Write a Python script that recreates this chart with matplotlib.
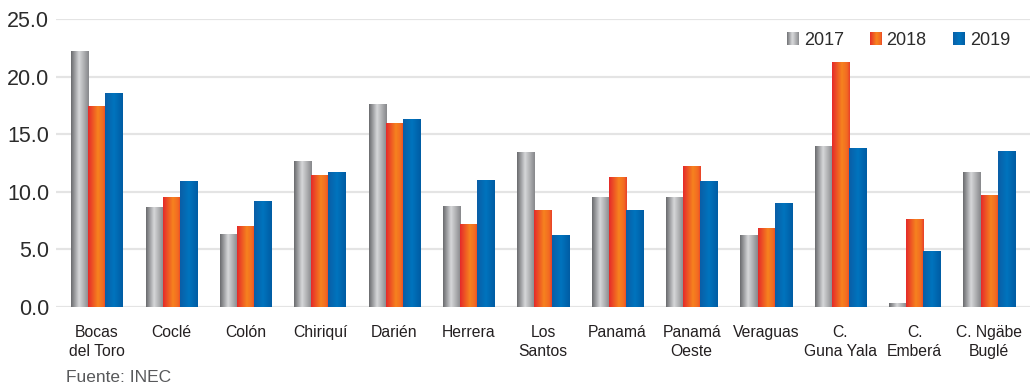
import numpy as np
import matplotlib
matplotlib.use("Agg")
import matplotlib.pyplot as plt
from matplotlib.colors import LinearSegmentedColormap
from matplotlib.patches import Rectangle
from matplotlib.legend_handler import HandlerBase

provincias = ["Bocas\ndel Toro", "Coclé", "Colón", "Chiriquí", "Darién", "Herrera",
              "Los\nSantos", "Panamá", "Panamá\nOeste", "Veraguas",
              "C.\nGuna Yala", "C.\nEmberá", "C. Ngäbe\nBuglé"]
anios = ["2017", "2018", "2019"]
v2017 = [22.2, 8.6, 6.3, 12.6, 17.6, 8.7, 13.4, 9.5, 9.5, 6.2, 13.9, 0.3, 11.7]
v2018 = [17.4, 9.5, 7.0, 11.4, 15.9, 7.2, 8.4, 11.2, 12.2, 6.8, 21.2, 7.6, 9.7]
v2019 = [18.5, 10.9, 9.2, 11.7, 16.3, 11.0, 6.2, 8.4, 10.9, 9.0, 13.8, 4.8, 13.5]
yticks = [0, 5, 10, 15, 20, 25]

# cylinder-like horizontal gradients for each year
cmaps = [
    LinearSegmentedColormap.from_list("gris", [(0, "#6a6b6e"), (0.45, "#d6d7d9"), (1, "#87888b")]),
    LinearSegmentedColormap.from_list("rojo", [(0, "#e52a2a"), (0.55, "#f6821f"), (0.85, "#f26a22"), (1, "#e8402a")]),
    LinearSegmentedColormap.from_list("azul", [(0, "#0a5ea6"), (0.5, "#0074be"), (1, "#005ca3")]),
]
grad = np.linspace(0, 1, 64).reshape(1, -1)


class GradientHandler(HandlerBase):
    def __init__(self, cmap, n=24):
        super().__init__()
        self.cmap = cmap
        self.n = n

    def create_artists(self, legend, orig_handle, xdescent, ydescent,
                       width, height, fontsize, trans):
        strips = []
        w = width / self.n
        for i in range(self.n):
            strips.append(Rectangle((-xdescent + i * w, -ydescent), w * 1.05, height,
                                    facecolor=self.cmap((i + 0.5) / self.n),
                                    edgecolor="none", transform=trans))
        return strips


fig = plt.figure(figsize=(10.3, 3.88), dpi=100)
ax = fig.add_axes([56 / 1030, 1 - 307 / 388, 1 - 56 / 1030, 288 / 388])

x = np.arange(len(provincias))
w = 0.23
series = [v2017, v2018, v2019]
handles = []
for k, vals in enumerate(series):
    bars = ax.bar(x + (k - 1) * w, vals, w, color="none", edgecolor="none", zorder=3)
    for b in bars:
        ax.imshow(grad, cmap=cmaps[k], aspect="auto", zorder=3, interpolation="bilinear",
                  extent=[b.get_x(), b.get_x() + b.get_width(), 0, b.get_height()])
    handles.append(Rectangle((0, 0), 1, 1))

ax.set_xlim(-0.55, len(provincias) - 0.45)
ax.set_ylim(0, 25)
ax.set_yticks(yticks)
ax.set_yticklabels([f"{t:.1f}" for t in yticks], fontsize=15.5, color="#2b2b2b",
                   family=["Liberation Sans", "DejaVu Sans"])
ax.set_xticks(x)
ax.set_xticklabels(provincias, fontsize=11.3, color="#231f20", linespacing=1.35,
                   family=["Liberation Sans", "DejaVu Sans"])
ax.tick_params(axis="both", length=0)
ax.tick_params(axis="y", pad=5)
ax.tick_params(axis="x", pad=13)
for s in ax.spines.values():
    s.set_visible(False)
ax.yaxis.grid(True, color="#e4e4e4", linewidth=1.6, zorder=0)
ax.set_axisbelow(True)

ax.legend(handles, anios, loc="upper right", bbox_to_anchor=(1019 / 1030, 1 - 23 / 388),
          bbox_transform=fig.transFigure, ncol=3, frameon=False, borderpad=0,
          handlelength=0.68, handleheight=0.68, handletextpad=0.25, columnspacing=1.45,
          prop={"family": ["Liberation Sans", "DejaVu Sans"], "size": 13},
          labelcolor="#2b2b2b",
          handler_map={h: GradientHandler(cmaps[i]) for i, h in enumerate(handles)})

fig.text(66 / 1030, 1 - 377 / 388, "Fuente: INEC", va="center", ha="left", fontsize=12.5,
         color="#58595b", family=["Liberation Sans", "DejaVu Sans"])

fig.savefig("out.png", dpi=100)
